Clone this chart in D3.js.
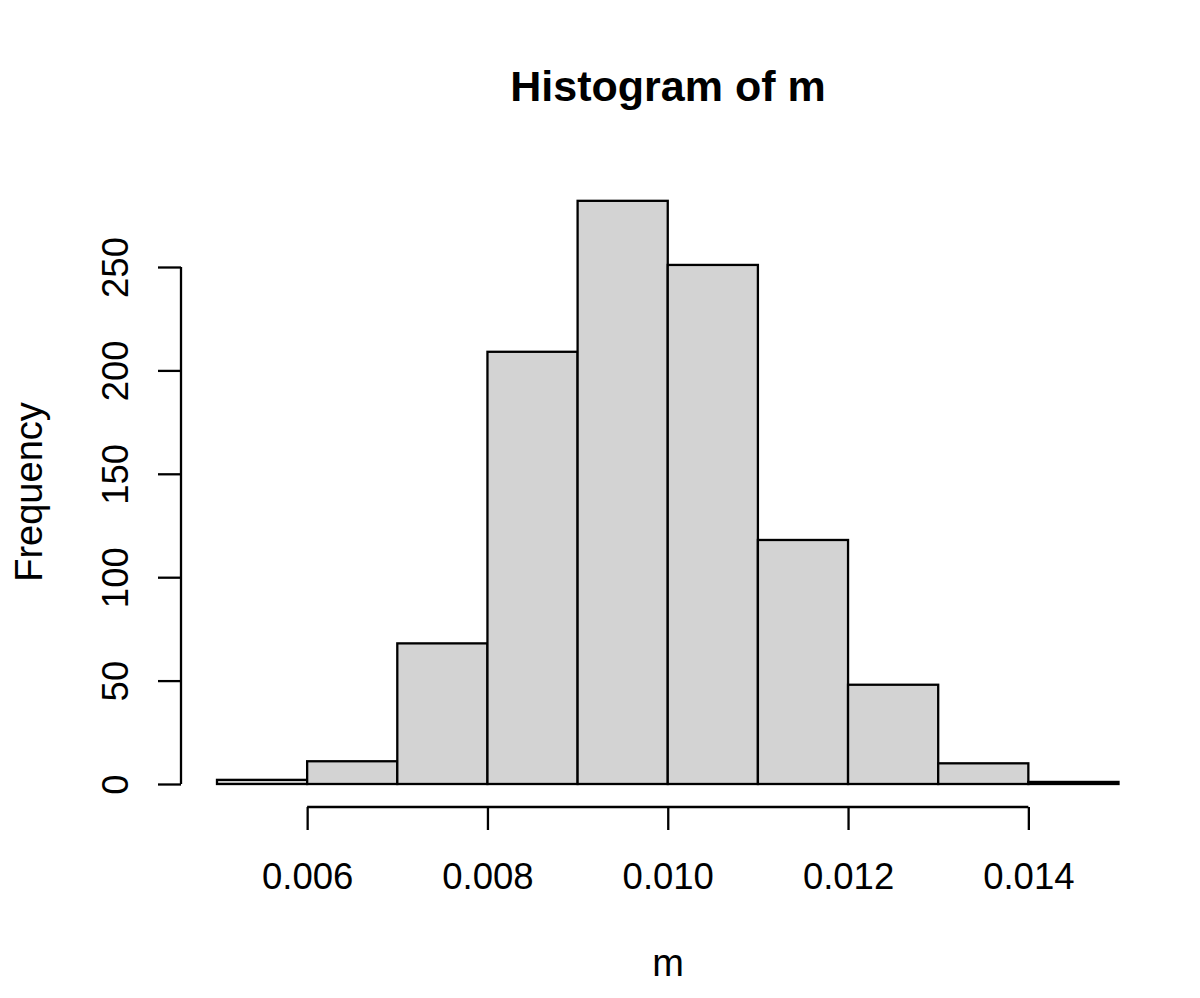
<!DOCTYPE html>
<html>
<head>
<meta charset="utf-8">
<script src="https://cdn.jsdelivr.net/npm/d3@7"></script>
<style>
  html, body { margin: 0; padding: 0; background: #fff; }
  svg text { font-family: "Liberation Sans", Arial, Helvetica, sans-serif; fill: #000; }
</style>
</head>
<body>
<svg id="chart" width="1200" height="998"></svg>
<script>
// Data
const binStarts = [0.005, 0.006, 0.007, 0.008, 0.009, 0.010, 0.011, 0.012, 0.013, 0.014];
const binEnds   = [0.006, 0.007, 0.008, 0.009, 0.010, 0.011, 0.012, 0.013, 0.014, 0.015];
const counts    = [2, 11, 68, 209, 282, 251, 118, 48, 10, 1];
const xTicks = [0.006, 0.008, 0.010, 0.012, 0.014];
const yTicks = [0, 50, 100, 150, 200, 250];
const titleText = "Histogram of m";
const xLabel = "m";
const yLabel = "Frequency";

const svg = d3.select("#chart");

const x = d3.scaleLinear().domain([0.005, 0.015]).range([217, 1118.5]);
const y = d3.scaleLinear().domain([0, 250]).range([784, 267]);

// Bars
svg.append("g").selectAll("rect")
  .data(counts.map((c, i) => ({ x0: binStarts[i], x1: binEnds[i], c })))
  .join("rect")
  .attr("x", d => x(d.x0))
  .attr("width", d => x(d.x1) - x(d.x0))
  .attr("y", d => y(d.c))
  .attr("height", d => y(0) - y(d.c))
  .attr("fill", "#d3d3d3")
  .attr("stroke", "#000")
  .attr("stroke-width", 2.3);

// X axis (R style: offset below the plot)
const xAxis = d3.axisBottom(x)
  .tickValues(xTicks)
  .tickFormat(d3.format(".3f"))
  .tickSize(23)
  .tickPadding(8);
const gx = svg.append("g")
  .attr("transform", "translate(0,807)")
  .call(xAxis);
gx.select(".domain").remove();
gx.append("line")
  .attr("x1", x(xTicks[0])).attr("x2", x(xTicks[xTicks.length - 1]))
  .attr("y1", 0).attr("y2", 0)
  .attr("stroke", "#000").attr("stroke-width", 2.3);
gx.selectAll(".tick line").attr("stroke", "#000").attr("stroke-width", 2.3);
gx.selectAll(".tick text")
  .attr("font-size", 36.5)
  .attr("font-family", "Liberation Sans, Arial, sans-serif")
  .attr("dy", null)
  .attr("y", 82);

// Y axis
const yAxis = d3.axisLeft(y)
  .tickValues(yTicks)
  .tickSize(23);
const gy = svg.append("g")
  .attr("transform", "translate(181,0)")
  .call(yAxis);
gy.select(".domain").remove();
gy.append("line")
  .attr("x1", 0).attr("x2", 0)
  .attr("y1", y(0)).attr("y2", y(250))
  .attr("stroke", "#000").attr("stroke-width", 2.3);
gy.selectAll(".tick line").attr("stroke", "#000").attr("stroke-width", 2.3);
gy.selectAll(".tick text")
  .attr("font-size", 36.5)
  .attr("font-family", "Liberation Sans, Arial, sans-serif")
  .attr("x", null).attr("dy", null)
  .attr("text-anchor", "middle")
  .attr("transform", "translate(-53,0) rotate(-90)");

// Title
svg.append("text")
  .attr("x", 668).attr("y", 101)
  .attr("text-anchor", "middle")
  .attr("font-size", 43)
  .attr("font-weight", "bold")
  .text(titleText);

// X label
svg.append("text")
  .attr("x", 668).attr("y", 976)
  .attr("text-anchor", "middle")
  .attr("font-size", 38)
  .text(xLabel);

// Y label
svg.append("text")
  .attr("transform", "translate(42,492) rotate(-90)")
  .attr("text-anchor", "middle")
  .attr("font-size", 38)
  .text(yLabel);
</script>
</body>
</html>
